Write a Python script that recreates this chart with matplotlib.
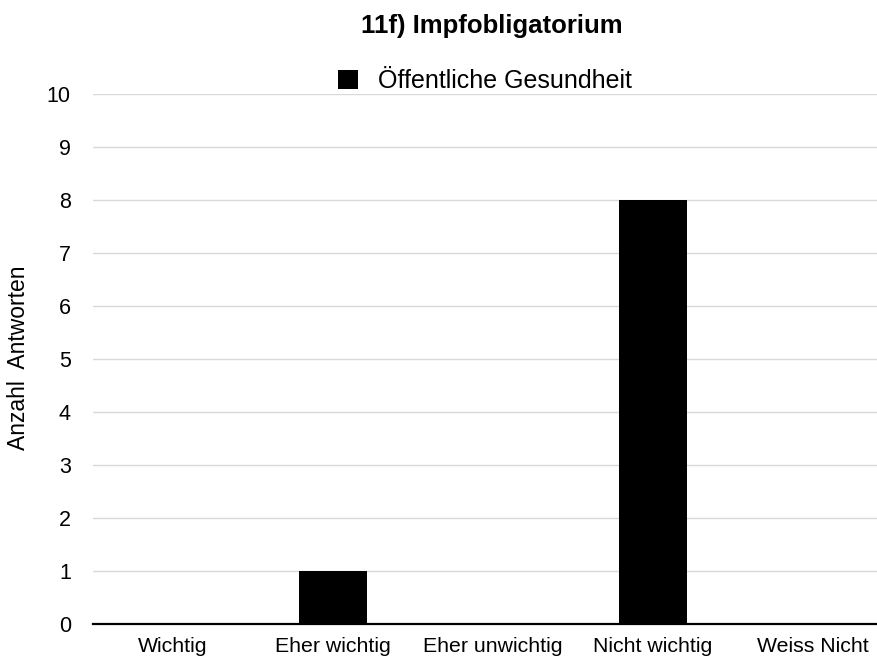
import matplotlib
matplotlib.use("Agg")
import matplotlib.pyplot as plt

categories = ["Wichtig", "Eher wichtig", "Eher unwichtig", "Nicht wichtig", "Weiss Nicht"]
counts = [0, 1, 0, 8, 0]
series_name = "Öffentliche Gesundheit"
title = "11f) Impfobligatorium"
y_label = "Anzahl  Antworten"
y_ticks = list(range(0, 11))

plt.rcParams["font.family"] = ["Liberation Sans", "DejaVu Sans"]

W, H = 878, 657
fig = plt.figure(figsize=(W / 100, H / 100), dpi=100)
left, right, top, bottom = 93, 878, 94, 624
ax = fig.add_axes([left / W, 1 - bottom / H, (right - left) / W, (bottom - top) / H])

x = list(range(len(categories)))
bars = ax.bar(x, counts, width=0.42, color="black", label=series_name, zorder=3)

ax.set_ylim(0, 10)
ax.set_xlim(-0.5, (right - 173) / 160)
ax.set_yticks(y_ticks)
ax.set_xticks(x)
ax.set_xticklabels(categories, fontsize=15.3)
ax.tick_params(axis="y", labelsize=15.5, length=0, pad=16)
ax.tick_params(axis="x", length=0, pad=9)
ax.yaxis.grid(True, color="#d9d9d9", linewidth=1.0, zorder=0)
ax.set_axisbelow(True)
for s in ("left", "right", "top"):
    ax.spines[s].set_visible(False)
ax.spines["bottom"].set_linewidth(1.6)
ax.spines["bottom"].set_color("black")
ax.spines["bottom"].set_zorder(4)

fig.text(19 / W, 1 - 358 / H, y_label, rotation=90, fontsize=16.5, ha="center", va="center")

fig.text(492 / W, 1 - 26 / H, title, fontsize=18.5, fontweight="bold", ha="center", va="center")

fig.legend(handles=[bars], labels=[series_name], loc="center", bbox_to_anchor=(485 / W, 1 - 81 / H),
           frameon=False, fontsize=18, handlelength=0.8, handleheight=0.8, handletextpad=0.8)

fig.savefig("out.png", dpi=100, facecolor="white")
